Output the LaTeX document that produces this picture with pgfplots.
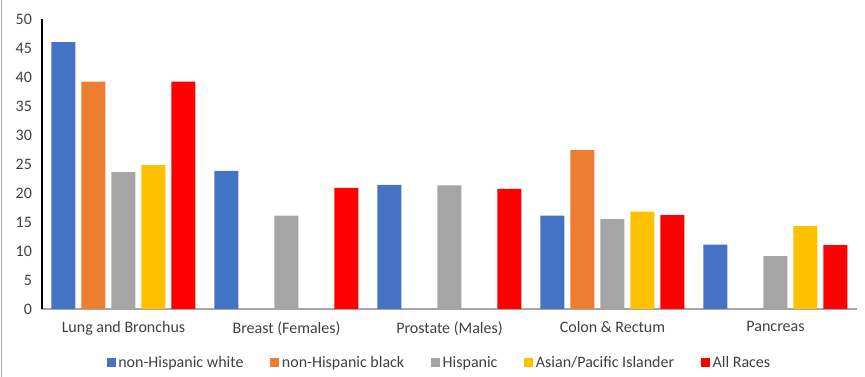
\documentclass[border=0pt]{standalone}
\usepackage{fontspec}
\setmainfont{Carlito}
\usepackage{pgfplots}
\pgfplotsset{compat=1.18}
\definecolor{cwhite}{HTML}{4472C4}
\definecolor{cblack}{HTML}{ED7D31}
\definecolor{chisp}{HTML}{A5A5A5}
\definecolor{casian}{HTML}{FFC000}
\definecolor{call}{HTML}{FF0000}
\definecolor{axgray}{HTML}{A6A6A6}
\begin{document}
\begin{tikzpicture}[x=1pt,y=1pt]
\useasboundingbox (-31.5,-51) rectangle (617.25,231.75);
\draw[axgray, line width=0.8pt] (-30.5,-51) -- (-30.5,231.75);
\begin{axis}[
  at={(0,0)}, anchor=south west,
  scale only axis,
  width=611.25pt, height=217.5pt,
  ybar=4.5pt, bar width=18pt,
  xmin=-0.5, xmax=4.5, ymin=0, ymax=50,
  xtick={0,1,2,3,4},
  xticklabels={Lung and Bronchus, Breast (Females), Prostate (Males), Colon \& Rectum, Pancreas},
  ytick={0,5,...,50},
  major tick length=0pt,
  axis x line*=bottom, axis y line*=left,
  x axis line style={draw=axgray, line width=0.8pt, -},
  y axis line style={draw=black, line width=0.8pt, -},
  tick style={draw=none},
  ticklabel style={font=\fontsize{12}{14}\selectfont, text=black!75},
  /pgf/number format/assume math mode=true,
  xticklabel style={yshift=-6pt},
  yticklabel style={xshift=-4pt},
  legend columns=5,
  legend style={draw=none, fill=none, at={(0.488,-0.185)}, anchor=center,
    font=\fontsize{12}{14}\selectfont, text=black!75,
    /tikz/every even column/.append style={column sep=18pt}},
  legend image code/.code={\fill[#1] (0pt,-3.4pt) rectangle (6.8pt,3.4pt);},
  every axis plot/.append style={draw=none},
]
\addplot[fill=cwhite] coordinates {(0,46.0) (1,23.8) (2,21.4) (3,16.1) (4,11.1)};
\addlegendentry{non-Hispanic white}
\addplot[fill=cblack] coordinates {(0,39.2) (3,27.4)};
\addlegendentry{non-Hispanic black}
\addplot[fill=chisp] coordinates {(0,23.6) (1,16.1) (2,21.3) (3,15.5) (4,9.1)};
\addlegendentry{Hispanic}
\addplot[fill=casian] coordinates {(0,24.8) (3,16.8) (4,14.3)};
\addlegendentry{Asian/Pacific Islander}
\addplot[fill=call] coordinates {(0,39.2) (1,20.9) (2,20.7) (3,16.2) (4,11.0)};
\addlegendentry{All Races}
\end{axis}
\end{tikzpicture}
\end{document}
